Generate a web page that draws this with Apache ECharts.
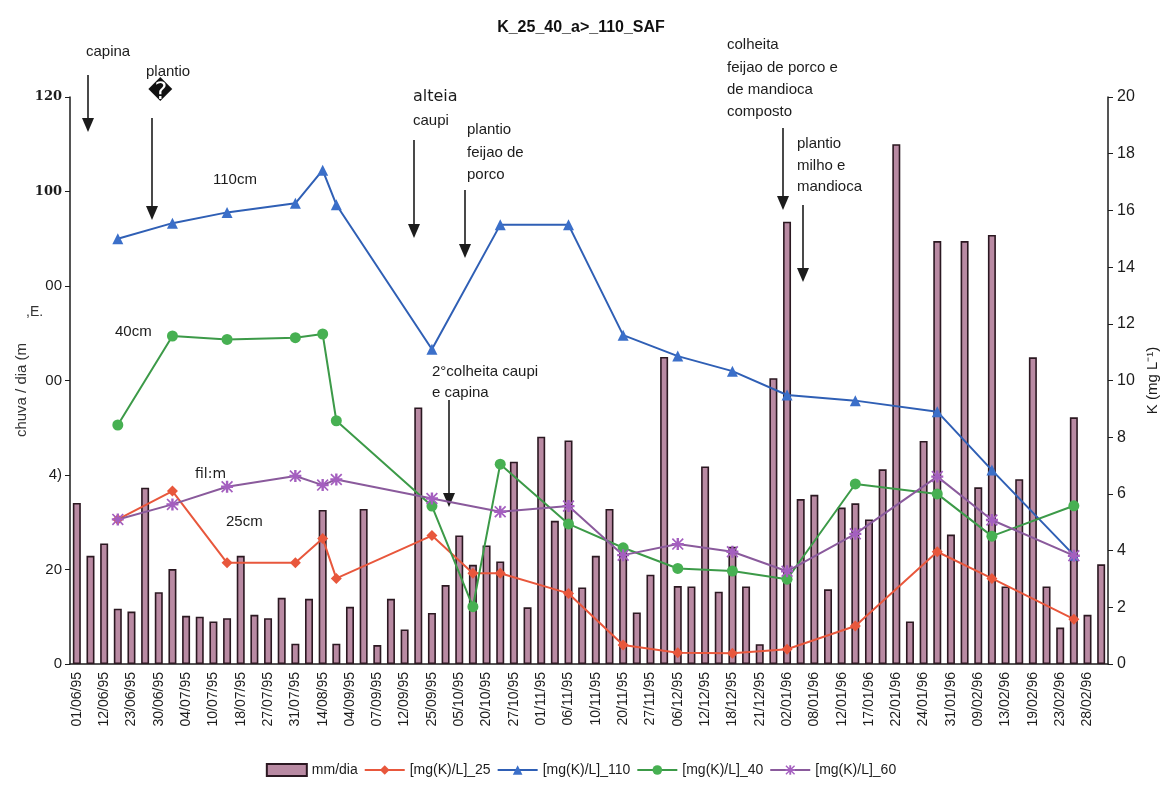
<!DOCTYPE html>
<html>
<head>
<meta charset="utf-8">
<script src="https://cdn.jsdelivr.net/npm/echarts@6/dist/echarts.min.js"></script>
<style>
html,body{margin:0;padding:0;background:#fff}
#chart{width:1162px;height:788px}
</style>
</head>
<body>
<div id="chart"></div>
<script>
// tick labels on the date axis (one every two bars)
var dateLabels = ['01/06/95','12/06/95','23/06/95','30/06/95','04/07/95','10/07/95','18/07/95','27/07/95',
  '31/07/95','14/08/95','04/09/95','07/09/95','12/09/95','25/09/95','05/10/95','20/10/95','27/10/95',
  '01/11/95','06/11/95','10/11/95','20/11/95','27/11/95','06/12/95','12/12/95','18/12/95','21/12/95',
  '02/01/96','08/01/96','12/01/96','17/01/96','22/01/96','24/01/96','31/01/96','09/02/96','13/02/96',
  '19/02/96','23/02/96','28/02/96'];

// chuva (mm/dia), one value per bar
var rain = [34.1,22.9,25.5,11.7,11.1,37.3,15.2,20.1,10.2,10.0,9.0,9.7,22.9,10.4,9.7,14.0,4.3,13.8,32.6,4.3,
  12.1,32.8,4.0,13.8,7.3,54.3,10.8,16.7,27.2,21.0,25.1,21.7,42.8,12.0,48.1,30.3,47.3,16.2,22.9,32.8,
  24.0,10.9,18.9,65.0,16.5,16.4,41.8,15.3,24.8,16.4,4.2,60.5,93.6,34.9,35.8,15.8,33.1,34.0,30.6,41.2,
  110.0,9.0,47.2,89.5,27.4,89.5,37.4,90.8,16.4,39.1,64.9,16.4,7.7,52.2,10.4,21.1];

// bar positions where K was sampled
var sampleIdx = [3,7,11,16,18,19,26,29,31,36,40,44,48,52,57,63,67,73];
var k25  = [5.10,6.10,3.57,3.57,4.43,3.02,4.53,3.20,3.20,2.49,0.67,0.40,0.38,0.52,1.34,3.96,3.02,1.58];
var k110 = [15.0,15.55,15.93,16.25,17.42,16.2,11.1,null,15.49,15.49,11.6,10.86,10.33,9.49,9.29,8.9,6.84,3.84];
var k40  = [8.43,11.57,11.45,11.51,11.64,8.58,5.57,2.02,7.05,4.94,4.10,3.37,3.28,2.99,6.35,6.0,4.51,5.58];
var k60  = [5.10,5.63,6.25,6.63,6.31,6.51,5.84,null,5.37,5.57,3.84,4.23,3.96,3.27,4.59,6.61,5.08,3.82];

// left axis labels as printed (scan)
var leftTickLabels = ['0','20','4)','00','00','100','120'];

var categories = [];
dateLabels.forEach(function (d) { categories.push(d); categories.push(''); });

function spread(vals) {
  var out = [];
  for (var i = 0; i < categories.length; i++) out.push(null);
  sampleIdx.forEach(function (idx, j) { out[idx] = vals[j]; });
  return out;
}

var SANS = '"Liberation Sans", Arial, sans-serif';
var INK = '#1c1c1c';
var asterisk = 'path://M4,0h2v10h-2z M0,4h10v2h-10z M1,0L5,4L9,0L10,1L6,5L10,9L9,10L5,6L1,10L0,9L4,5L0,1z';

// annotation arrows: x, y from, y to
var arrows = [[88,75,132],[152,118,220],[414,140,238],[465,190,258],[783,128,210],[803,205,282],[449,400,507]];
var notes = [
  ['capina',86,52],['plantio',146,72],['caupi',413,121],
  ['plantio',467,130],['feijao de',467,153],['porco',467,175],
  ['colheita',727,45],['feijao de porco e',727,68],['de mandioca',727,90],['composto',727,112],
  ['plantio',797,144],['milho e',797,166],['mandioca',797,187],
  ['2°colheita caupi',432,372],['e capina',432,393],
  ['110cm',213,180],['40cm',115,332],['25cm',226,522]
];

var graphics = [];
arrows.forEach(function (a) {
  graphics.push({type:'line', shape:{x1:a[0], y1:a[1], x2:a[0], y2:a[2]-12}, style:{stroke:INK, lineWidth:1.6}});
  graphics.push({type:'polygon', shape:{points:[[a[0]-6,a[2]-14],[a[0]+6,a[2]-14],[a[0],a[2]]]}, style:{fill:INK}});
});
notes.forEach(function (n) {
  graphics.push({type:'text', x:n[1], y:n[2],
    style:{text:n[0], font:'15px ' + SANS, fill:INK, verticalAlign:'middle'}});
});
graphics.push({type:'text', x:413, y:97, style:{text:'alteia', font:'16px "DejaVu Sans", sans-serif', fill:INK, verticalAlign:'middle'}});
graphics.push({type:'text', x:195, y:474, style:{text:'fil:m', font:'14px "DejaVu Sans", sans-serif', fill:INK, verticalAlign:'middle'}});
graphics.push({type:'text', x:148, y:93, style:{text:'\uFFFD', font:'24px "DejaVu Sans", sans-serif', fill:'#111', verticalAlign:'middle'}});
graphics.push({type:'text', x:22, y:390, rotation:Math.PI/2, style:{text:'chuva / dia (m', font:'15px ' + SANS, fill:'#333', align:'center', verticalAlign:'middle'}});
graphics.push({type:'text', x:26, y:312, style:{text:',E.', font:'14px ' + SANS, fill:'#333', verticalAlign:'middle'}});

var chart = echarts.init(document.getElementById('chart'));

var lineBase = {type:'line', yAxisIndex:1, connectNulls:true, lineStyle:{width:2}, z:3};

chart.setOption({
  animation: false,
  backgroundColor: '#fff',
  title: {
    text: 'K_25_40_a>_110_SAF', left: 'center', top: 15,
    textStyle: {fontFamily: SANS, fontSize: 16, fontWeight: 'bold', color: '#111'}
  },
  legend: {
    bottom: 6, left: 'center', itemGap: 6, itemWidth: 40, itemHeight: 12,
    textStyle: {fontFamily: SANS, fontSize: 14, color: INK},
    data: [{name:'mm/dia', icon:'rect'}, '[mg(K)/L]_25', '[mg(K)/L]_110', '[mg(K)/L]_40', '[mg(K)/L]_60']
  },
  grid: {left: 70, right: 54, top: 97, bottom: 124, outerBoundsMode: 'none'},
  xAxis: {
    type: 'category', data: categories, boundaryGap: true,
    axisLine: {lineStyle: {color: INK, width: 1.5}},
    axisTick: {interval: 0, length: 5, lineStyle: {color: INK}},
    axisLabel: {interval: 0, rotate: 90, fontFamily: SANS, fontSize: 14, color: INK, margin: 8}
  },
  yAxis: [{
    type: 'value', min: 0, max: 120, interval: 20,
    splitLine: {show: false},
    axisLine: {show: true, lineStyle: {color: INK, width: 1.5}},
    axisTick: {show: true, length: 5, lineStyle: {color: INK}},
    axisLabel: {
      fontFamily: SANS, fontSize: 15, color: INK, margin: 8,
      formatter: function (v) {
        var t = leftTickLabels[Math.round(v / 20)];
        return v >= 100 ? '{b|' + t + '}' : t;
      },
      rich: {b: {fontFamily: '"DejaVu Serif", serif', fontWeight: 'bold', fontSize: 13, color: INK}}
    }
  }, {
    type: 'value', min: 0, max: 20, interval: 2, position: 'right',
    name: 'K (mg L\u207B\u00B9)', nameLocation: 'middle', nameGap: 33, nameRotate: 90,
    nameTextStyle: {fontFamily: SANS, fontSize: 15, color: INK},
    splitLine: {show: false},
    axisLine: {show: true, lineStyle: {color: INK, width: 1.5}},
    axisTick: {show: true, length: 5, lineStyle: {color: INK}},
    axisLabel: {fontFamily: SANS, fontSize: 16, color: INK, margin: 9}
  }],
  series: [
    {name:'mm/dia', type:'bar', data: rain, barWidth: 8, z: 2,
     itemStyle: {color: '#b98aa3', borderColor: '#2b1821', borderWidth: 1.6}},
    Object.assign({}, lineBase, {name:'[mg(K)/L]_25', data: spread(k25), symbol:'diamond', symbolSize: 11,
      itemStyle:{color:'#e8573c'}, lineStyle:{width:2, color:'#e8573c'}}),
    Object.assign({}, lineBase, {name:'[mg(K)/L]_110', data: spread(k110), symbol:'triangle', symbolSize: 11,
      itemStyle:{color:'#3b6fc9'}, lineStyle:{width:2, color:'#2f5fb5'}}),
    Object.assign({}, lineBase, {name:'[mg(K)/L]_40', data: spread(k40), symbol:'circle', symbolSize: 11,
      itemStyle:{color:'#47b052'}, lineStyle:{width:2, color:'#3c9a48'}}),
    Object.assign({}, lineBase, {name:'[mg(K)/L]_60', data: spread(k60), symbol: asterisk, symbolSize: 12,
      itemStyle:{color:'#a45fbf'}, lineStyle:{width:2, color:'#8a5a9c'}})
  ],
  graphic: graphics
});
</script>
</body>
</html>
